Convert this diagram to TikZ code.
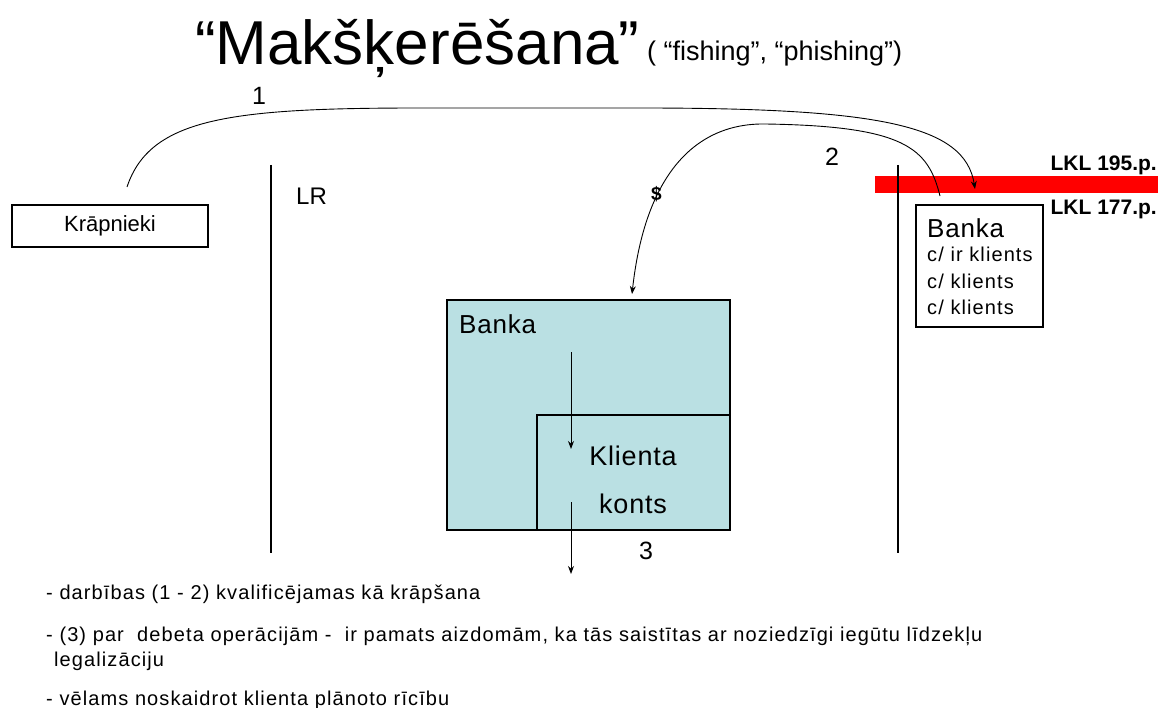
\documentclass[tikz,border=0pt]{standalone}
\usepackage{fontspec}
\setmainfont{Liberation Sans}
\newfontfamily\spaced[LetterSpace=5.5]{Liberation Sans}
\newfontfamily\spacedb[LetterSpace=3]{Liberation Sans}
\usetikzlibrary{arrows.meta}
\definecolor{tealfill}{RGB}{186,224,227}
\definecolor{barred}{RGB}{255,0,0}
\begin{document}
\begin{tikzpicture}[x=1pt,y=-1pt,
  box/.style={draw=black,line width=1.2pt,inner sep=0pt},
  lbl/.style={inner sep=0pt,anchor=base west},
  conn/.style={line width=0.9pt,-{Stealth[length=8pt,width=6pt]}},
  vline/.style={line width=1.2pt},
  bottomtxt/.style={lbl,font=\spaced\fontsize{20}{20}\selectfont}]
\useasboundingbox (0,0) rectangle (1161,708);
% title
\node[lbl,font=\fontsize{62}{62}\selectfont] (title) at (195,65) {“Makšķerēšana”};
\node[lbl,font=\fontsize{27}{27}\selectfont] (sub) at (647,61) {( “fishing”, “phishing”)};
% red bar
\fill[barred] (875,176) rectangle (1158,193);
\node[lbl,font=\fontsize{21}{21}\selectfont\bfseries,anchor=base east] (lkl195) at (1157,171) {LKL 195.p.};
\node[lbl,font=\fontsize{21}{21}\selectfont\bfseries,anchor=base east] (lkl177) at (1157,215) {LKL 177.p.};
% vertical lines
\draw[vline] (271,165) -- (271,553);
\draw[vline] (898,165) -- (898,553);
\node[lbl,font=\fontsize{24}{24}\selectfont] (lr) at (296,205) {LR};
% Krapnieki box
\node[box,minimum width=196pt,minimum height=42pt,font=\fontsize{22}{22}\selectfont] (krap) at (110,226) {Krāpnieki};
% right bank box
\node[box,minimum width=127pt,minimum height=122pt] (bankR) at (979.5,266) {};
\node[lbl,font=\spacedb\fontsize{26}{26}\selectfont] (bankRt) at (927,238) {Banka};
\node[lbl,font=\spaced\fontsize{20}{20}\selectfont] (c1) at (927,262) {c/ ir klients};
\node[lbl,font=\spaced\fontsize{20}{20}\selectfont] (c2) at (927,289) {c/ klients};
\node[lbl,font=\spaced\fontsize{20}{20}\selectfont] (c3) at (927,315) {c/ klients};
% big bank box
\node[box,fill=tealfill,minimum width=283pt,minimum height=230pt] (bankB) at (588.5,415) {};
\node[box,fill=tealfill,minimum width=193pt,minimum height=115pt] (konts) at (633.5,472.5) {};
\node[lbl,font=\spacedb\fontsize{26}{26}\selectfont] (bankBt) at (459,334) {Banka};
\node[font=\spacedb\fontsize{27}{27}\selectfont,inner sep=0pt,anchor=base] (klienta) at (633,465) {Klienta};
\node[font=\spacedb\fontsize{27}{27}\selectfont,inner sep=0pt,anchor=base] (kontst) at (633,513) {konts};
% coordinates for connectors
\coordinate (s1) at (127,187);
\coordinate (e1) at (975,189);
\coordinate (s2) at (940,196);
\coordinate (e2) at (632,294);
\coordinate (a1s) at (571,352);
\coordinate (a1e) at (571,449);
\coordinate (a2s) at (571,502);
\coordinate (a2e) at (571,574);
% connectors
\draw[conn] (s1) .. controls (150,118) and (230,108) .. (420,108) -- (640,108) .. controls (880,108) and (965,125) .. (e1);
\draw[conn] (s2) .. controls (928,148) and (905,126) .. (765,124) .. controls (695,123) and (645,175) .. (e2);
\draw[conn] (a1s) -- (a1e);
\draw[conn] (a2s) -- (a2e);
% numbers
\node[lbl,font=\fontsize{25}{25}\selectfont] (n1) at (252,105) {1};
\node[lbl,font=\fontsize{25}{25}\selectfont] (n2) at (825,166) {2};
\node[lbl,font=\fontsize{25}{25}\selectfont] (n3) at (639,559) {3};
\node[lbl,font=\fontsize{19}{19}\selectfont\bfseries] (dollar) at (651,201) {\$};
% bottom text
\node[bottomtxt] (t1) at (46,599) {- darbības (1 - 2) kvalificējamas kā krāpšana};
\node[bottomtxt] (t2) at (46,641) {- (3) par\ \ debeta operācijām -\ \ ir pamats aizdomām, ka tās saistītas ar noziedzīgi iegūtu līdzekļu};
\node[bottomtxt] (t2b) at (54,666) {legalizāciju};
\node[bottomtxt] (t3) at (46,705) {- vēlams noskaidrot klienta plānoto rīcību};
\end{tikzpicture}
\end{document}
